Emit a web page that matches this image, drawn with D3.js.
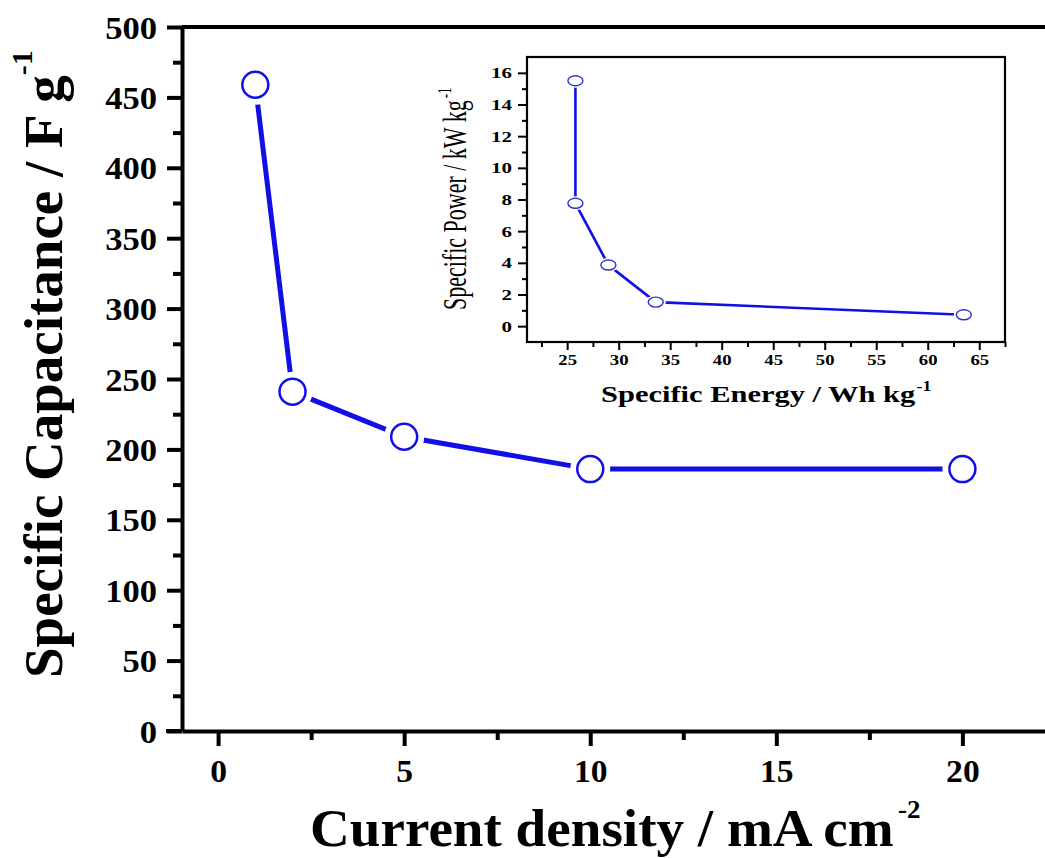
<!DOCTYPE html>
<html>
<head>
<meta charset="utf-8">
<script src="https://cdn.jsdelivr.net/npm/d3@7"></script>
<style>
html,body{margin:0;padding:0;background:#fff;}
svg{display:block;}
text{font-family:"Liberation Serif","Times New Roman",serif;}
</style>
</head>
<body>
<svg id="chart" width="1045" height="858"></svg>
<script>
// ---- Data ----
const currentDensity = [1, 2, 5, 10, 20];
const capacitance = [459, 241, 209, 186, 186];
const mainXTicks = [0, 5, 10, 15, 20];
const mainXMinor = [2.5, 7.5, 12.5, 17.5];
const mainYTicks = [0, 50, 100, 150, 200, 250, 300, 350, 400, 450, 500];
const mainYMinor = [25, 75, 125, 175, 225, 275, 325, 375, 425, 475];

const specificEnergy = [25.8, 25.8, 29.0, 33.6, 63.5];
const specificPower = [15.5, 7.76, 3.86, 1.52, 0.72];
const insetXTicks = [25, 30, 35, 40, 45, 50, 55, 60, 65];
const insetXMinor = [22.5, 27.5, 32.5, 37.5, 42.5, 47.5, 52.5, 57.5, 62.5, 67.5];
const insetYTicks = [0, 2, 4, 6, 8, 10, 12, 14, 16];
const insetYMinor = [-1, 1, 3, 5, 7, 9, 11, 13, 15];

const BLUE = "#1010e6";
const svg = d3.select("#chart");

// ---- Main chart ----
const x = d3.scaleLinear().domain([-0.97, 22.3]).range([182, 1048]);
const y = d3.scaleLinear().domain([0, 500]).range([731, 27]);

// top frame line
svg.append("line").attr("x1", x.range()[0]).attr("x2", 1050)
  .attr("y1", y(500)).attr("y2", y(500))
  .attr("stroke", "#000").attr("stroke-width", 4);

// minor ticks
svg.append("g").attr("transform", `translate(${x.range()[0]},0)`)
  .call(d3.axisLeft(y).tickValues(mainYMinor).tickSize(9).tickFormat(""))
  .call(g => g.select(".domain").remove())
  .selectAll("line").attr("stroke-width", 4);
svg.append("g").attr("transform", `translate(0,${y(0)})`)
  .call(d3.axisBottom(x).tickValues(mainXMinor).tickSize(9).tickFormat(""))
  .call(g => g.select(".domain").remove())
  .selectAll("line").attr("stroke-width", 4);

// major y axis
const gy = svg.append("g").attr("transform", `translate(${x.range()[0]},0)`)
  .call(d3.axisLeft(y).tickValues(mainYTicks).tickSize(15).tickSizeOuter(0).tickFormat(d3.format("d")));
gy.select(".domain").attr("stroke-width", 4);
gy.selectAll(".tick line").attr("stroke-width", 4);
gy.selectAll(".tick text")
  .attr("x", null).attr("dy", null)
  .attr("transform", "translate(-25,11) scale(1.08,1)")
  .attr("text-anchor", "end")
  .style("font-size", "32px").style("font-weight", "bold").attr("fill", "#000");

// major x axis
const gx = svg.append("g").attr("transform", `translate(0,${y(0)})`)
  .call(d3.axisBottom(x).tickValues(mainXTicks).tickSize(15).tickSizeOuter(0).tickFormat(d3.format("d")));
gx.select(".domain").attr("stroke-width", 4);
gx.selectAll(".tick line").attr("stroke-width", 4);
gx.selectAll(".tick text")
  .attr("y", null).attr("dy", null)
  .attr("transform", "translate(0,51) scale(1.05,1)")
  .attr("text-anchor", "middle")
  .style("font-size", "32px").style("font-weight", "bold").attr("fill", "#000");
// extend x axis line left to y tick
svg.append("line").attr("x1", 166).attr("x2", x.range()[0])
  .attr("y1", y(0)).attr("y2", y(0)).attr("stroke", "#000").attr("stroke-width", 4);

// data line
const mainData = currentDensity.map((d, i) => [d, capacitance[i]]);
svg.append("path").datum(mainData)
  .attr("fill", "none").attr("stroke", BLUE).attr("stroke-width", 5)
  .attr("d", d3.line().x(d => x(d[0])).y(d => y(d[1])));
svg.append("g").selectAll("circle.halo").data(mainData).join("circle")
  .attr("cx", d => x(d[0])).attr("cy", d => y(d[1])).attr("r", 20).attr("fill", "#fff");
svg.append("g").selectAll("circle.mk").data(mainData).join("circle")
  .attr("cx", d => x(d[0])).attr("cy", d => y(d[1])).attr("r", 13)
  .attr("fill", "#fff").attr("stroke", BLUE).attr("stroke-width", 2.5);

// axis titles
const ytitle = svg.append("text")
  .attr("transform", "translate(62,678) rotate(-90)")
  .attr("text-anchor", "start")
  .style("font-size", "55px").style("font-weight", "bold");
ytitle.append("tspan").text("Specific Capacitance / F g");
ytitle.append("tspan").attr("dy", -30).style("font-size", "30px").text("-1");

const xtitle = svg.append("text")
  .attr("transform", "translate(310,846) scale(1.04,1)")
  .attr("text-anchor", "start")
  .style("font-size", "53px").style("font-weight", "bold");
xtitle.append("tspan").text("Current density / mA cm");
xtitle.append("tspan").attr("dy", -28).attr("dx", 4).style("font-size", "26px").text("-2");

// ---- Inset ----
const ix = d3.scaleLinear().domain([21.1, 67.5]).range([527, 1005]);
const iy = d3.scaleLinear().domain([-1, 17]).range([342, 57]);
const inset = svg.append("g");

inset.append("g").attr("transform", `translate(${ix.range()[0]},0)`)
  .call(d3.axisLeft(iy).tickValues(insetYMinor.filter(v => v > -1)).tickSize(5).tickFormat(""))
  .call(g => g.select(".domain").remove())
  .selectAll("line").attr("stroke-width", 2);
inset.append("g").attr("transform", `translate(0,${iy.range()[0]})`)
  .call(d3.axisBottom(ix).tickValues(insetXMinor).tickSize(5).tickFormat(""))
  .call(g => g.select(".domain").remove())
  .selectAll("line").attr("stroke-width", 2);

const igy = inset.append("g").attr("transform", `translate(${ix.range()[0]},0)`)
  .call(d3.axisLeft(iy).tickValues(insetYTicks).tickSize(9).tickSizeOuter(0).tickFormat(d3.format("d")));
igy.select(".domain").remove();
igy.selectAll(".tick line").attr("stroke-width", 2);
igy.selectAll(".tick text")
  .attr("x", null).attr("dy", null)
  .attr("transform", "translate(-15,5) scale(1.4,1)")
  .attr("text-anchor", "end")
  .style("font-size", "15px").style("font-weight", "bold").attr("fill", "#000");

const igx = inset.append("g").attr("transform", `translate(0,${iy.range()[0]})`)
  .call(d3.axisBottom(ix).tickValues(insetXTicks).tickSize(8).tickSizeOuter(0).tickFormat(d3.format("d")));
igx.select(".domain").remove();
igx.selectAll(".tick line").attr("stroke-width", 2);
igx.selectAll(".tick text")
  .attr("y", null).attr("dy", null)
  .attr("transform", "translate(0,23) scale(1.25,1)")
  .attr("text-anchor", "middle")
  .style("font-size", "15px").style("font-weight", "bold").attr("fill", "#000");

inset.append("rect")
  .attr("x", ix.range()[0]).attr("y", iy.range()[1])
  .attr("width", ix.range()[1] - ix.range()[0]).attr("height", iy.range()[0] - iy.range()[1])
  .attr("fill", "none").attr("stroke", "#000").attr("stroke-width", 2.2);

const insetData = specificEnergy.map((d, i) => [d, specificPower[i]]);
inset.append("path").datum(insetData)
  .attr("fill", "none").attr("stroke", BLUE).attr("stroke-width", 2.6)
  .attr("d", d3.line().x(d => ix(d[0])).y(d => iy(d[1])));
inset.append("g").selectAll("ellipse").data(insetData).join("ellipse")
  .attr("cx", d => ix(d[0])).attr("cy", d => iy(d[1])).attr("rx", 10).attr("ry", 7).attr("fill", "#fff");
inset.append("g").selectAll("ellipse").data(insetData).join("ellipse")
  .attr("cx", d => ix(d[0])).attr("cy", d => iy(d[1])).attr("rx", 7.5).attr("ry", 5)
  .attr("fill", "#fff").attr("stroke", "#3030d0").attr("stroke-width", 1.4);

const iyt = inset.append("text")
  .attr("transform", "translate(466,310) scale(1.5,1) rotate(-90)")
  .attr("text-anchor", "start")
  .style("font-size", "22px");
iyt.append("tspan").text("Specific Power / kW kg");
iyt.append("tspan").attr("dy", -10).attr("dx", 2).style("font-size", "13px").text("-1");

const ixt = inset.append("text")
  .attr("transform", "translate(601,401.7) scale(1.27,1)")
  .attr("text-anchor", "start")
  .style("font-size", "24px").style("font-weight", "bold");
ixt.append("tspan").text("Specific Energy / Wh kg");
ixt.append("tspan").attr("dy", -11).attr("dx", 1).style("font-size", "14px").text("-1");
</script>
</body>
</html>
